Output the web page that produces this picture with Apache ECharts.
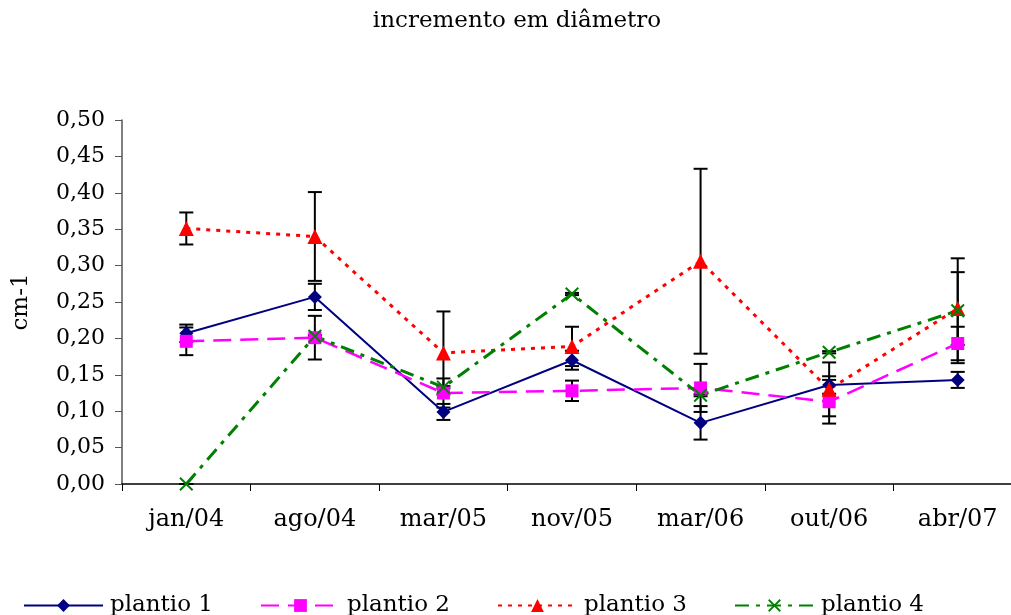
<!DOCTYPE html>
<html>
<head>
<meta charset="utf-8">
<script src="https://cdn.jsdelivr.net/npm/echarts@6/dist/echarts.min.js"></script>
<style>
  html, body { margin: 0; padding: 0; background: #fff; }
  #chart { width: 1011px; height: 615px; }
</style>
</head>
<body>
<div id="chart"></div>
<script>
// Sampling dates
const categories = ['jan/04', 'ago/04', 'mar/05', 'nov/05', 'mar/06', 'out/06', 'abr/07'];

// Mean diameter increment per planting (cm-1)
const plantio1 = [0.207, 0.257, 0.099, 0.170, 0.084, 0.136, 0.143];
const plantio2 = [0.196, 0.201, 0.125, 0.128, 0.132, 0.113, 0.193];
const plantio3 = [0.351, 0.340, 0.180, 0.189, 0.306, 0.130, 0.241];
const plantio4 = [0.000, 0.203, 0.133, 0.261, 0.122, 0.181, 0.238];

// Error bar half-lengths
const erro1 = [0.012, 0.018, 0.011, 0.013, 0.023, 0.012, 0.011];
const erro2 = [0.019, 0.030, 0.020, 0.014, 0.033, 0.030, 0.023];
const erro3 = [0.022, 0.061, 0.057, 0.027, 0.127, 0.037, 0.050];
const erro4 = [0.000, 0.0015, 0.0015, 0.0015, 0.0015, 0.0015, 0.072];

const yTicks = ['0,00', '0,05', '0,10', '0,15', '0,20', '0,25', '0,30', '0,35', '0,40', '0,45', '0,50'];

const FONT = 'DejaVu Serif';
const crossPath = 'path://M0,1 L1,0 L5,4 L9,0 L10,1 L6,5 L10,9 L9,10 L5,6 L1,10 L0,9 L4,5 Z';

function errorBars(name, values, errs) {
  return {
    type: 'custom',
    name: name + ' erro',
    z: 1,
    silent: true,
    encode: { x: 0, y: 1 },
    data: values.map((v, i) => [i, v, errs[i]]),
    renderItem: function (params, api) {
      const i = api.value(0), v = api.value(1), e = api.value(2);
      const hi = api.coord([i, v + e]);
      const lo = api.coord([i, v - e]);
      const hw = 7;
      const st = { stroke: '#000', lineWidth: 2 };
      return {
        type: 'group',
        children: [
          { type: 'line', shape: { x1: hi[0], y1: hi[1], x2: lo[0], y2: lo[1] }, style: st },
          { type: 'line', shape: { x1: hi[0] - hw, y1: hi[1], x2: hi[0] + hw, y2: hi[1] }, style: st },
          { type: 'line', shape: { x1: lo[0] - hw, y1: lo[1], x2: lo[0] + hw, y2: lo[1] }, style: st }
        ]
      };
    }
  };
}

function lineSeries(name, values, color, dash, width, symbol, size) {
  return {
    type: 'line',
    name: name,
    z: 3,
    data: values,
    symbol: symbol,
    symbolSize: size,
    showAllSymbol: true,
    lineStyle: { color: color, width: width, type: dash },
    itemStyle: { color: color }
  };
}

const chart = echarts.init(document.getElementById('chart'), null, { renderer: 'canvas' });
chart.setOption({
  animation: false,
  backgroundColor: '#fff',
  title: {
    text: 'incremento em diâmetro',
    left: 512,
    textAlign: 'center',
    top: 5,
    textStyle: { fontFamily: FONT, fontSize: 23, fontWeight: 'normal', color: '#000' }
  },
  // plot area runs past the right edge of the canvas
  grid: { left: 122, top: 120, width: 900, height: 364, outerBoundsMode: 'none', containLabel: false },
  xAxis: {
    type: 'category',
    data: categories,
    boundaryGap: true,
    axisLine: { lineStyle: { color: '#000', width: 1.5 } },
    axisTick: { show: true, length: 7, lineStyle: { color: '#000' } },
    axisLabel: { fontFamily: FONT, fontSize: 24, color: '#000', margin: 24 }
  },
  yAxis: {
    type: 'value',
    min: 0,
    max: 0.5,
    interval: 0.05,
    name: 'cm-1',
    nameLocation: 'middle',
    nameGap: 89,
    nameTextStyle: { fontFamily: FONT, fontSize: 23, color: '#000' },
    axisLine: { show: true, lineStyle: { color: '#555', width: 1.5 } },
    axisTick: { show: true, length: 7, lineStyle: { color: '#555' } },
    splitLine: { show: false },
    axisLabel: {
      fontFamily: FONT, fontSize: 22, color: '#000', margin: 17,
      formatter: function (v) { return yTicks[Math.round(v / 0.05)]; }
    }
  },
  legend: {
    data: ['plantio 1', 'plantio 2', 'plantio 3', 'plantio 4'],
    left: 23,
    top: 594,
    padding: 0,
    itemWidth: 79,
    itemHeight: 16,
    itemGap: 47,
    textStyle: { fontFamily: FONT, fontSize: 23, color: '#000', padding: [0, 0, 0, 2] }
  },
  series: [
    errorBars('plantio 1', plantio1, erro1),
    errorBars('plantio 2', plantio2, erro2),
    errorBars('plantio 3', plantio3, erro3),
    errorBars('plantio 4', plantio4, erro4),
    lineSeries('plantio 1', plantio1, '#000080', 'solid', 2, 'diamond', 14),
    lineSeries('plantio 2', plantio2, '#FF00FF', [18, 9], 2.5, 'rect', 13),
    lineSeries('plantio 3', plantio3, '#FF0000', [4, 6], 3, 'triangle', 15),
    lineSeries('plantio 4', plantio4, '#008000', [14, 7, 4, 7], 3, crossPath, 14)
  ]
});
</script>
</body>
</html>
